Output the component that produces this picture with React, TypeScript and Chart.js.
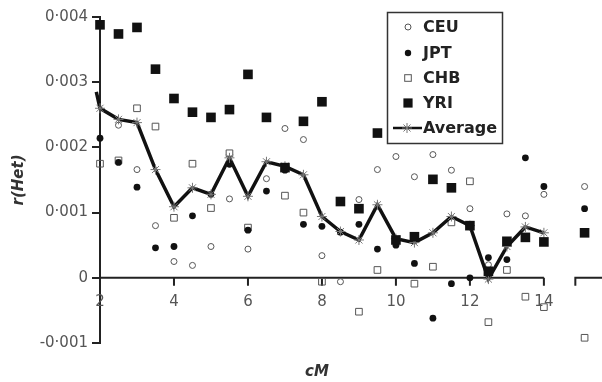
import React, { useEffect, useRef } from 'react';
import { Chart, registerables } from 'chart.js';

Chart.register(...registerables);

// cM positions (last entry = separate point beyond the axis break)
const positions = [2, 2.5, 3, 3.5, 4, 4.5, 5, 5.5, 6, 6.5, 7, 7.5, 8, 8.5, 9, 9.5, 10, 10.5, 11, 11.5, 12, 12.5, 13, 13.5, 14, 15.1];

const ceu = [null, 0.00234, 0.00166, 0.0008, 0.00025, 0.00019, 0.00048, 0.00121, 0.00044, 0.00152, 0.00229, 0.00212, 0.00034, -0.00006, 0.0012, 0.00166, 0.00186, 0.00155, 0.00189, 0.00165, 0.00106, 0.0002, 0.00098, 0.00095, 0.00128, 0.0014];
const jpt = [0.00214, 0.00177, 0.00139, 0.00046, 0.00048, 0.00095, 0.00128, 0.00174, 0.00073, 0.00133, 0.00165, 0.00082, 0.00079, 0.0007, 0.00082, 0.00044, 0.0005, 0.00022, -0.00062, -0.00009, 0.0, 0.00031, 0.00028, 0.00184, 0.0014, 0.00106];
const chb = [0.00175, 0.0018, 0.0026, 0.00232, 0.00092, 0.00175, 0.00107, 0.00191, 0.00077, null, 0.00126, 0.001, -0.00006, null, -0.00052, 0.00012, null, -0.00009, 0.00017, 0.00085, 0.00148, -0.00068, 0.00012, -0.00029, -0.00045, -0.00092];
const yri = [0.00388, 0.00374, 0.00384, 0.0032, 0.00275, 0.00254, 0.00246, 0.00258, 0.00312, 0.00246, 0.00169, 0.0024, 0.0027, 0.00117, 0.00106, 0.00222, 0.00058, 0.00063, 0.00151, 0.00138, 0.0008, 0.0001, 0.00056, 0.00062, 0.00055, 0.00069];
const average = [0.0026, 0.00243, 0.00238, 0.00166, 0.00109, 0.00138, 0.00128, 0.00184, 0.00125, 0.00178, 0.00171, 0.00158, 0.00094, 0.00071, 0.00058, 0.00112, 0.0006, 0.00054, 0.00069, 0.00094, 0.0008, -0.00002, 0.00048, 0.00078, 0.00069, null];
const averageLeadIn = { x: 1.9, y: 0.00285 };

const xTickValues = [2, 4, 6, 8, 10, 12, 14];
const yTickValues = [-0.001, 0, 0.001, 0.002, 0.003, 0.004];
const seriesNames = ['CEU', 'JPT', 'CHB', 'YRI', 'Average'];

const fmtY = (v: number) => {
  const r = Math.round(v * 1000) / 1000;
  if (r === 0) return '0';
  return r.toFixed(3).replace('.', '\u00B7');
};

const toPts = (arr: (number | null)[]) => positions.map((x, i) => ({ x, y: arr[i] }));

function drawStar(ctx: CanvasRenderingContext2D, cx: number, cy: number, r: number) {
  ctx.beginPath();
  for (let k = 0; k < 4; k++) {
    const a = (k * Math.PI) / 4;
    ctx.moveTo(cx - Math.cos(a) * r, cy - Math.sin(a) * r);
    ctx.lineTo(cx + Math.cos(a) * r, cy + Math.sin(a) * r);
  }
  ctx.stroke();
}

const axisPlugin = {
  id: 'brokenXAxis',
  beforeDatasetsDraw(chart: any) {
    const { ctx } = chart;
    const xs = chart.scales.x;
    const ys = chart.scales.y;
    const y0 = ys.getPixelForValue(0);
    ctx.save();
    ctx.strokeStyle = '#222';
    ctx.lineWidth = 2;
    ctx.beginPath();
    ctx.moveTo(xs.getPixelForValue(2), y0);
    ctx.lineTo(xs.getPixelForValue(14), y0);
    xTickValues.forEach((t) => {
      if (t === 2) return;
      const px = xs.getPixelForValue(t);
      ctx.moveTo(px, y0);
      ctx.lineTo(px, y0 + 8);
    });
    const bx = xs.getPixelForValue(14.85);
    ctx.moveTo(bx, y0 + 8);
    ctx.lineTo(bx, y0);
    ctx.lineTo(chart.width, y0);
    ctx.stroke();

    ctx.fillStyle = '#555';
    ctx.font = '15px "DejaVu Sans"';
    ctx.textAlign = 'center';
    ctx.textBaseline = 'middle';
    xTickValues.forEach((t) => {
      ctx.fillText(String(t), xs.getPixelForValue(t), y0 + 24);
    });

    ctx.fillStyle = '#333';
    ctx.font = 'italic bold 15px "DejaVu Sans"';
    ctx.fillText('cM', xs.getPixelForValue(8) - 5, 372);
    ctx.save();
    ctx.translate(19, (ys.top + ys.bottom) / 2);
    ctx.rotate(-Math.PI / 2);
    ctx.fillText('r(Het)', 0, 0);
    ctx.restore();
    ctx.restore();
  },
};

const legendPlugin = {
  id: 'boxLegend',
  afterDatasetsDraw(chart: any) {
    const { ctx } = chart;
    ctx.save();
    const left = 387.5, top = 12.5, w = 115, h = 131;
    ctx.fillStyle = '#fff';
    ctx.fillRect(left, top, w, h);
    ctx.strokeStyle = '#333';
    ctx.lineWidth = 1.5;
    ctx.strokeRect(left, top, w, h);
    const mx = 408;
    const rows = [27, 53, 78, 103, 128];
    // CEU
    ctx.lineWidth = 1;
    ctx.strokeStyle = '#555';
    ctx.beginPath();
    ctx.arc(mx, rows[0], 3, 0, Math.PI * 2);
    ctx.stroke();
    // JPT
    ctx.fillStyle = '#111';
    ctx.beginPath();
    ctx.arc(mx, rows[1], 3.2, 0, Math.PI * 2);
    ctx.fill();
    // CHB
    ctx.strokeRect(mx - 3.3, rows[2] - 3.3, 6.6, 6.6);
    // YRI
    ctx.fillRect(mx - 4.6, rows[3] - 4.6, 9.2, 9.2);
    // Average
    ctx.strokeStyle = '#111';
    ctx.lineWidth = 2.5;
    ctx.beginPath();
    ctx.moveTo(393, rows[4]);
    ctx.lineTo(422, rows[4]);
    ctx.stroke();
    ctx.strokeStyle = '#777';
    ctx.lineWidth = 1;
    drawStar(ctx, 407, rows[4], 5);

    ctx.fillStyle = '#222';
    ctx.font = 'bold 16px "DejaVu Sans"';
    ctx.textAlign = 'left';
    ctx.textBaseline = 'middle';
    seriesNames.forEach((n, i) => ctx.fillText(n, 423, rows[i] + 1));
    ctx.restore();
  },
};

export default function App() {
  const ref = useRef<HTMLCanvasElement | null>(null);
  useEffect(() => {
    if (!ref.current) return;
    const avgPts = [averageLeadIn, ...toPts(average)];
    const chart = new Chart(ref.current, {
      type: 'scatter',
      data: {
        datasets: [
          {
            label: 'YRI', data: toPts(yri), pointStyle: 'rect', pointRadius: 6.8,
            backgroundColor: '#111', borderColor: '#111', borderWidth: 0, order: 0, clip: false,
          } as any,
          {
            type: 'line', label: 'Average', data: avgPts, showLine: true, borderColor: '#111',
            borderWidth: 3.5, tension: 0, pointStyle: 'star',
            pointRadius: avgPts.map((_, i) => (i === 0 ? 0 : 5)),
            pointBorderColor: '#777', pointBackgroundColor: 'rgba(0,0,0,0)', pointBorderWidth: 1,
            spanGaps: false, order: 1, clip: false,
          } as any,
          {
            label: 'JPT', data: toPts(jpt), pointStyle: 'circle', pointRadius: 3.4,
            backgroundColor: '#111', borderColor: '#111', borderWidth: 0, order: 2, clip: false,
          } as any,
          {
            label: 'CHB', data: toPts(chb), pointStyle: 'rect', pointRadius: 4.7,
            backgroundColor: 'rgba(0,0,0,0)', borderColor: '#555', borderWidth: 1, order: 3, clip: false,
          } as any,
          {
            label: 'CEU', data: toPts(ceu), pointStyle: 'circle', pointRadius: 3,
            backgroundColor: 'rgba(0,0,0,0)', borderColor: '#555', borderWidth: 1, order: 4, clip: false,
          } as any,
        ],
      },
      options: {
        responsive: false,
        animation: false,
        layout: { padding: { top: 17, bottom: 39, left: 0, right: 0 } },
        plugins: { legend: { display: false }, tooltip: { enabled: false } },
        scales: {
          x: { type: 'linear', min: 2, max: 15.387, display: false },
          y: {
            type: 'linear',
            min: -0.001,
            max: 0.004,
            afterBuildTicks: (s: any) => { s.ticks = yTickValues.map((v) => ({ value: v })); },
            afterFit: (s: any) => { s.width = 100; },
            ticks: {
              callback: (v: any) => fmtY(Number(v)),
              color: '#555',
              font: { family: 'DejaVu Sans', size: 15 },
              padding: 4,
            },
            grid: { drawOnChartArea: false, drawTicks: true, tickLength: 8, color: '#222', lineWidth: 2 },
            border: { display: true, color: '#222', width: 2 },
          },
        },
      },
      plugins: [axisPlugin, legendPlugin],
    } as any);
    return () => chart.destroy();
  }, []);
  return (
    <div style={{ position: 'fixed', left: 0, top: 0, width: 602, height: 382, background: '#fff' }}>
      <canvas ref={ref} width={602} height={382} style={{ display: 'block', width: 602, height: 382 }} />
    </div>
  );
}
